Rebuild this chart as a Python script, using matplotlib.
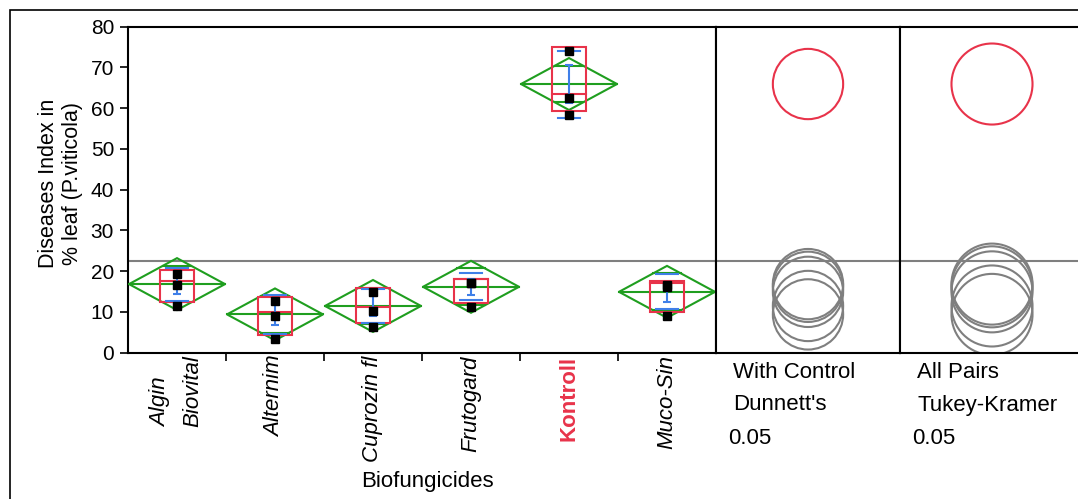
# Oneway analysis of disease index by biofungicide, JMP style
# (mean diamonds, quantile boxes, std dev lines, comparison circles)
import numpy as np
import matplotlib.pyplot as plt
import matplotlib.transforms as mtrans
from matplotlib.patches import Circle, Rectangle, Polygon

plt.rcParams['font.family'] = ['Liberation Sans', 'DejaVu Sans']

# Data (3 replicates per treatment)
groups = ['Algin\nBiovital', 'Alternim', 'Cuprozin fl', 'Frutogard', 'Kontroll', 'Muco-Sin']
rep1 = [20.4, 13.7, 15.9, 18.1, 75.1, 17.7]
rep2 = [17.7, 10.1, 11.1, 18.1, 63.5, 17.1]
rep3 = [12.4, 4.4, 7.4, 12.3, 59.2, 10.0]
control = 'Kontroll'
yticks = [0, 10, 20, 30, 40, 50, 60, 70, 80]

# Critical values used by JMP for alpha = 0.05, df = 12
t_crit = 2.179
dunnett_crit = 2.95
tukey_crit = 3.40

# Colours
green = '#1f9e1f'
red = '#e8334a'
blue = '#3f7fe8'
grey = '#7f7f7f'

vals = np.array([rep1, rep2, rep3]).T
n = vals.shape[1]
means = vals.mean(axis=1)
sds = vals.std(axis=1, ddof=1)
ses = sds / np.sqrt(n)
mse = ((vals - means[:, None])**2).sum() / (vals.size - len(groups))
se_pooled = np.sqrt(mse / n)
ci = t_crit * se_pooled
grand_mean = vals.mean()

W, H = 1078, 499
fig = plt.figure(figsize=(W/100, H/100), dpi=100)

def pos(x0, y0, x1, y1):
    return [x0/W, 1 - y1/H, (x1 - x0)/W, (y1 - y0)/H]

ax = fig.add_axes(pos(128, 26.7, 716, 352.7))
axd = fig.add_axes(pos(716, 26.7, 900, 352.7))
axt = fig.add_axes(pos(900, 26.7, 1084, 352.7))

# Outer frame
fig.add_artist(Rectangle((10/W, -0.1), 1.2, 1 - 10/H + 0.1, transform=fig.transFigure,
                         fill=False, lw=1.2, ec='black'))

# JMP draws the point markers hanging a few pixels below the value
marker_shift = ax.transData + mtrans.ScaledTranslation(0, -4/100, fig.dpi_scale_trans)

# Main panel
hw = 0.49
for i in range(len(groups)):
    m = means[i]
    ax.add_patch(Polygon([(i - hw, m), (i, m + ci), (i + hw, m), (i, m - ci)],
                         closed=True, fill=False, ec=green, lw=1.5, zorder=3))
    ax.plot([i - hw, i + hw], [m, m], color=green, lw=1.5, zorder=3)
    ow = hw * (1 - 1/np.sqrt(2))
    for s in (1, -1):
        ax.plot([i - ow, i + ow], [m + s*ci/np.sqrt(2)]*2, color=green, lw=1.5, zorder=3)
    # quantile box (n=3 -> min, median, max)
    q1, med, q3 = np.min(vals[i]), np.median(vals[i]), np.max(vals[i])
    ax.add_patch(Rectangle((i - 0.175, q1), 0.35, q3 - q1, fill=False, ec=red, lw=1.5, zorder=4))
    ax.plot([i - 0.175, i + 0.175], [med, med], color=red, lw=1.5, zorder=4)
    # std dev lines and mean error bars
    for s in (1, -1):
        ax.plot([i - 0.11, i + 0.11], [m + s*sds[i]]*2, color=blue, lw=1.5, zorder=5)
    ax.errorbar(i, m, yerr=ses[i], color=blue, lw=1.5, capsize=3, capthick=1.5, zorder=5)
    ax.plot([i]*n, vals[i], 's', color='black', ms=6, zorder=6, transform=marker_shift)

for a in (ax, axd, axt):
    a.axhline(grand_mean, color=grey, lw=1.5, zorder=1)
    a.set_ylim(0, 80)
    for sp in a.spines.values():
        sp.set_linewidth(1.5)

ax.set_xlim(-0.5, len(groups) - 0.5)
ax.set_yticks(yticks)
ax.tick_params(axis='y', direction='out', length=6, width=1.2, labelsize=15, pad=4)
ax.set_xticks(range(len(groups)))
ax.set_xticks(np.arange(0.5, len(groups) - 1), minor=True)
ax.tick_params(axis='x', which='major', length=0, pad=2)
ax.tick_params(axis='x', which='minor', direction='out', length=6, width=1.2)
ax.set_xticklabels(groups, rotation=90, va='top', ha='center', fontsize=16)
for lbl in ax.get_xticklabels():
    lbl.set_multialignment('left')
    lbl.set_linespacing(1.7)
    if lbl.get_text() == control:
        lbl.set_color(red)
        lbl.set_fontweight('bold')
    else:
        lbl.set_fontstyle('italic')

ax.set_ylabel('Diseases Index in\n% leaf (P.viticola)', fontsize=15.5)
ax.yaxis.set_label_coords(-0.076, 0.52)
fig.text(427/W, 1 - 482/H, 'Biofungicides', ha='center', va='center', fontsize=16)

# Comparison circles panels
for a, crit in ((axd, dunnett_crit), (axt, tukey_crit)):
    bb = a.get_position()
    xr = 80 * (bb.width * W) / (bb.height * H)
    a.set_xlim(-xr/2, xr/2)
    a.set_xticks([])
    a.set_yticks([])
    r = crit * se_pooled
    for i in range(len(groups)):
        c = red if groups[i] == control else grey
        a.add_patch(Circle((0, means[i]), r, fill=False, ec=c, lw=1.5, zorder=3 if c == red else 2))

panel_txt = [(733, ['With Control', "Dunnett's"], 728), (917, ['All Pairs', 'Tukey-Kramer'], 912)]
for x, lines, x2 in panel_txt:
    fig.text(x/W, 1 - 372/H, lines[0], ha='left', va='center', fontsize=16)
    fig.text(x/W, 1 - 405/H, lines[1], ha='left', va='center', fontsize=16)
    fig.text(x2/W, 1 - 438/H, '0.05', ha='left', va='center', fontsize=16)

fig.savefig('out.png', dpi=100)
